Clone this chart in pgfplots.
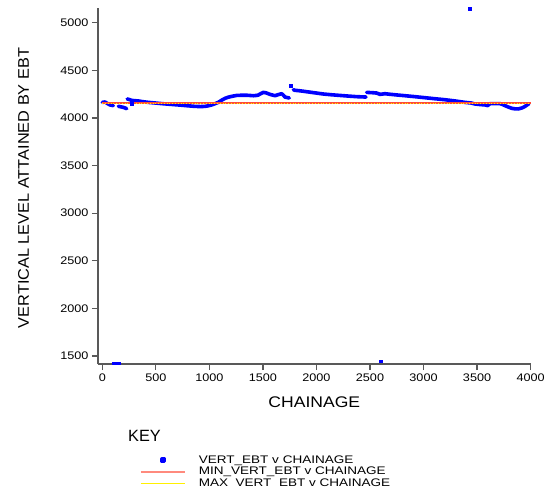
\documentclass[border=0pt]{standalone}
\usepackage{pgfplots}
\pgfplotsset{compat=1.18}
\usetikzlibrary{calc}
\usepackage{fontspec}
\setmainfont{Liberation Sans}
\newfontfamily\tickfont[FakeStretch=1.15]{Liberation Sans}
\newfontfamily\legfont[FakeStretch=1.23]{Liberation Sans}
\newfontfamily\ylabfont[FakeStretch=1.06]{Liberation Sans}
\newfontfamily\xlabfont[FakeStretch=1.14]{Liberation Sans}
\definecolor{minred}{RGB}{255,75,55}
\definecolor{maxyel}{RGB}{255,240,0}
\begin{document}
\begin{tikzpicture}
\begin{axis}[
  scale only axis, width=432.6bp, height=356bp,
  xmin=-40, xmax=4000, ymin=1416, ymax=5154,
  axis lines=left,
  axis line style={-, draw=black!65, line width=1.2bp},
  tick style={draw=black!65, line width=1.2bp},
  tick align=outside, major tick length=6bp,
  xtick={0,500,...,4000}, ytick={1500,2000,...,5000},
  /pgf/number format/1000 sep={},
  /pgf/number format/assume math mode=true,
  ticklabel style={font=\tickfont\fontsize{11bp}{13bp}\selectfont},
  xlabel={CHAINAGE}, ylabel={VERTICAL LEVEL ATTAINED BY EBT},
  xlabel style={at={(rel axis cs:0.5,0)}, anchor=center, yshift=-38bp, font=\xlabfont\fontsize{15.4bp}{17bp}\selectfont},
  ylabel style={at={(rel axis cs:0,0.5)}, anchor=center, xshift=-2bp, yshift=74.5bp, font=\ylabfont\fontsize{15.4bp}{17bp}\selectfont},
  clip=false,
  unbounded coords=jump,
  legend cell align=left,
  legend style={draw=none, fill=none, at={(rel axis cs:0,0)}, anchor=north west,
     xshift=41bp, yshift=-91bp, inner sep=0pt, row sep=1.7bp, column sep=12bp,
     nodes={inner sep=0pt, text height=8bp, text depth=2bp, font=\legfont\fontsize{11bp}{12bp}\selectfont}},
]
\coordinate (bl) at (rel axis cs:0,0);
\coordinate (tr) at (rel axis cs:1,1);
% VERT_EBT v CHAINAGE (dense points drawn as a thick trace)
\addplot[blue, line width=3.6bp, line join=round, line cap=round,
  legend image code/.code={\path (0bp,0bp) (44bp,0bp); \fill[blue] (21bp,-1.2bp) rectangle (23.5bp,1.3bp);}]
coordinates {
(0,4163) (25,4167) (50,4150) (72,4136) (103,4129)
(120,nan)
(150,4122) (175,4116) (196,4111) (215,4103) (228,4097)
(230,nan)
(233,4199) (255,4192) (274,4184) (300,4181) (336,4178) (380,4170) (430,4163)
(490,4157) (555,4150) (630,4143) (710,4136) (790,4128) (866,4121) (920,4119)
(959,4121) (990,4127) (1022,4136) (1050,4148) (1083,4163) (1115,4186) (1146,4205)
(1175,4217) (1208,4226) (1255,4236) (1302,4238) (1350,4238) (1410,4233) (1440,4236)
(1457,4240) (1480,4255) (1504,4268) (1520,4265) (1535,4261) (1566,4247) (1590,4240)
(1613,4233) (1645,4245) (1675,4254) (1690,4240) (1706,4219) (1746,4209)
(1765,nan)
(1784,4296) (1800,4290) (1850,4284) (1909,4275) (1980,4264) (2064,4251) (2140,4243)
(2220,4236) (2300,4229) (2376,4223) (2463,4219)
(2466,nan)
(2469,4268) (2520,4265) (2563,4261) (2593,4247) (2640,4254) (2671,4250) (2750,4241)
(2827,4233) (2920,4223) (3014,4212) (3100,4202) (3200,4191) (3300,4177) (3387,4163)
(3443,4157) (3481,4146) (3530,4140) (3574,4136) (3599,4129) (3621,4150) (3660,4150)
(3714,4150) (3740,4140) (3761,4129) (3790,4115) (3823,4101) (3855,4095) (3885,4094)
(3920,4105) (3948,4121) (3985,4150)
};
\addlegendentry{VERT\_EBT v CHAINAGE}
\addplot[color=minred, solid, line width=2.1bp,
  legend image code/.code={\draw[draw=minred!65!white, line width=2.7bp] (0bp,0bp) -- (44bp,0bp);}]
table {
x y
0 4152
4000 4152
};
\addlegendentry{MIN\_VERT\_EBT v CHAINAGE}
\addplot[color=maxyel, line width=0.6bp, dash pattern=on 0.8bp off 2bp,
  legend image code/.code={\draw[draw=maxyel, line width=1.2bp, solid] (0bp,0bp) -- (44bp,0bp);}]
table {
x y
0 4152
4000 4152
};
\addlegendentry{MAX{\phantom{\_}}VERT{\phantom{\_}}EBT v CHAINAGE}
% isolated points
\addplot[only marks, mark=square*, mark size=1.4bp, blue, forget plot]
coordinates {(275,4148) (1759,4338) (3433,5148) (110,1424) (125,1424) (140,1424) (155,1424) (2600,1445)};
\node[anchor=west, inner sep=0pt, font=\fontsize{16.3bp}{18bp}\selectfont] at (rel axis cs:0,0) [xshift=30bp, yshift=-72bp] {KEY};
\end{axis}
\pgfresetboundingbox
\path ($(bl)+(-98bp,-131bp)$) rectangle ($(tr)+(14.4bp,8bp)$);
\end{tikzpicture}
\end{document}
